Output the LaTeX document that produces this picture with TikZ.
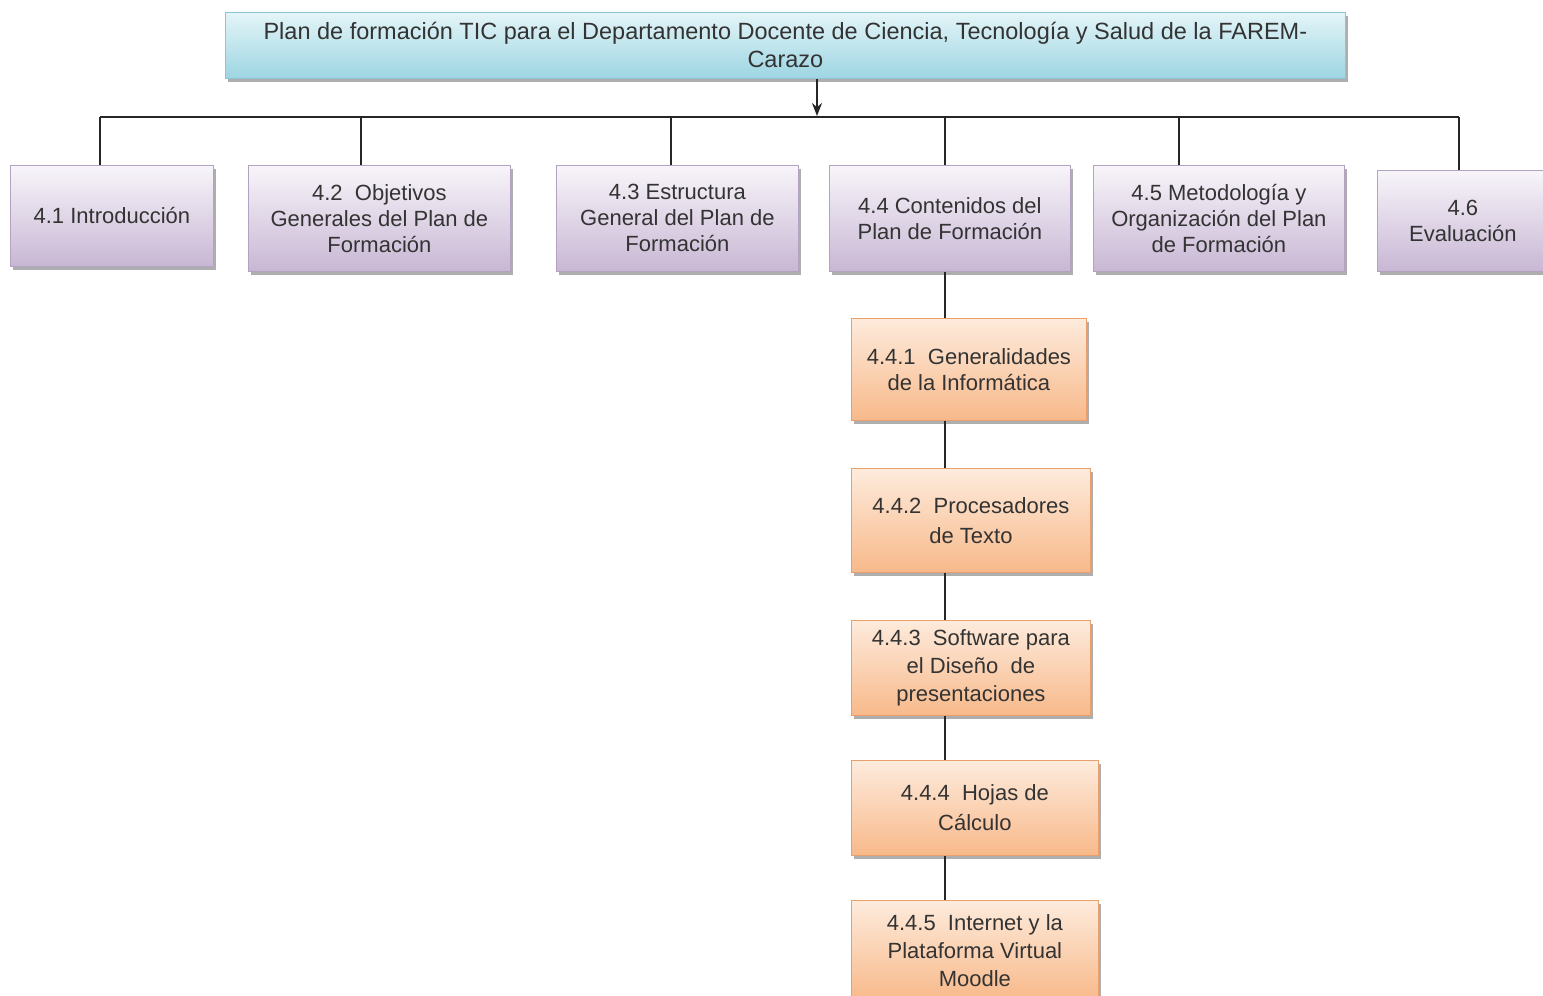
\documentclass[tikz,border=0pt]{standalone}
\usepackage{fontspec}
\setmainfont{Liberation Sans}
\usetikzlibrary{shadows,arrows.meta}
\definecolor{txt}{HTML}{333333}
\definecolor{cyanT}{HTML}{E4F5F8}
\definecolor{cyanB}{HTML}{9DD5E2}
\definecolor{cyanD}{HTML}{8CC6D4}
\definecolor{purT}{HTML}{F8F5FA}
\definecolor{purB}{HTML}{C8B7D4}
\definecolor{purD}{HTML}{B4A3C0}
\definecolor{orT}{HTML}{FDEBDC}
\definecolor{orB}{HTML}{F8B98A}
\definecolor{orD}{HTML}{E9A06C}
\tikzset{
  x=1pt, y=-1pt,
  boxbase/.style={rectangle, align=center, text=txt, inner sep=2pt,
    font=\fontsize{22}{26}\selectfont,
    drop shadow={shadow xshift=3pt, shadow yshift=-4pt, fill=black!45, opacity=0.7}},
  titlebox/.style={boxbase, draw=cyanD, line width=0.8pt, top color=cyanT, bottom color=cyanB,
    font=\fontsize{23.5}{28}\selectfont},
  mainbox/.style={boxbase, draw=purD, line width=0.8pt, top color=purT, bottom color=purB},
  subbox/.style={boxbase, draw=orD, line width=0.8pt, top color=orT, bottom color=orB},
  link/.style={draw=black!85, line width=1.6pt}
}
\newcommand{\bx}[7]{% name, style, x1, y1, x2, y2, text
  \node[#2, minimum width={#5-#3}, minimum height={#6-#4}, anchor=north west] (#1) at (#3,#4) {#7};}
\begin{document}
\begin{tikzpicture}
\useasboundingbox (0,0) rectangle (1543,996);
\bx{top}{titlebox}{225}{12}{1345}{78}{Plan de formación TIC para el Departamento Docente de Ciencia, Tecnología y Salud de la FAREM-\\Carazo}
\bx{b1}{mainbox}{10}{165}{213}{266}{4.1 Introducción}
\bx{b2}{mainbox}{248}{165}{510}{271}{4.2\ \ Objetivos\\Generales del Plan de\\Formación}
\bx{b3}{mainbox}{556}{165}{798}{271}{4.3 Estructura\\General del Plan de\\Formación}
\bx{b4}{mainbox}{829}{165}{1070}{271}{4.4 Contenidos del\\Plan de Formación}
\bx{b5}{mainbox}{1093}{165}{1344}{271}{4.5 Metodología y\\Organización del Plan\\de Formación}
\bx{b6}{mainbox}{1377}{170}{1548}{271}{4.6\\Evaluación}
\bx{s1}{subbox}{851}{318}{1086}{420}{4.4.1\ \ Generalidades\\de la Informática}
\bx{s2}{subbox}{851}{468}{1090}{572}{4.4.2\ \ Procesadores\\[4pt]de Texto}
\bx{s3}{subbox}{851}{620}{1090}{715}{4.4.3\ \ Software para\\[2pt]el Diseño\ \ de\\[2pt]presentaciones}
\bx{s4}{subbox}{851}{760}{1098}{855}{4.4.4\ \ Hojas de\\[4pt]Cálculo}
\bx{s5}{subbox}{851}{900}{1098}{1000}{4.4.5\ \ Internet y la\\[2pt]Plataforma Virtual\\[2pt]Moodle}
% bus
\coordinate (bus) at (817,117);
\coordinate (busL) at (100,117);
\coordinate (busR) at (1459,117);
\coordinate (j1) at (100,117);
\coordinate (j2) at (361,117);
\coordinate (j3) at (671,117);
\coordinate (j4) at (945,117);
\coordinate (j5) at (1179,117);
\coordinate (j6) at (1459,117);
\coordinate (spine) at (945,300);
\draw[link, -{Stealth[length=13pt,width=10pt]}] (top.south -| bus) -- ([yshift=1pt]bus);
\draw[link] (busL) -- (busR);
\foreach \j/\b in {j1/b1,j2/b2,j3/b3,j4/b4,j5/b5,j6/b6}{
  \draw[link] (\j) -- (\j |- \b.north);
}
\draw[link] (b4.south -| spine) -- (s1.north -| spine);
\draw[link] (s1.south -| spine) -- (s2.north -| spine);
\draw[link] (s2.south -| spine) -- (s3.north -| spine);
\draw[link] (s3.south -| spine) -- (s4.north -| spine);
\draw[link] (s4.south -| spine) -- (s5.north -| spine);
\end{tikzpicture}
\end{document}
